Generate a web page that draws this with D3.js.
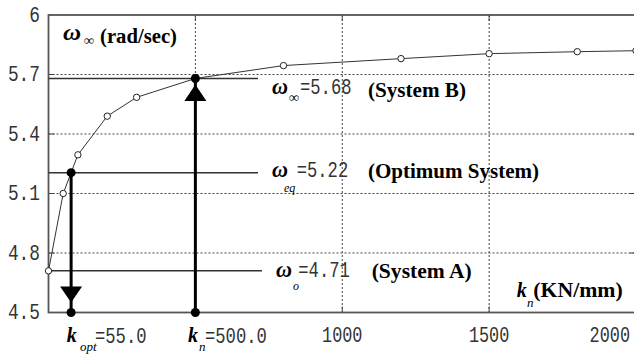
<!DOCTYPE html>
<html>
<head>
<meta charset="utf-8">
<script src="https://cdnjs.cloudflare.com/ajax/libs/d3/7.8.5/d3.min.js"></script>
<style>
  body { margin: 0; background: #fff; }
  svg { display: block; }
  .mono { font-family: "Liberation Mono", "DejaVu Sans Mono", monospace; font-size: 22px; fill: #333; }
  .serif { font-family: "Liberation Serif", "DejaVu Serif", serif; font-weight: bold; fill: #000; }
</style>
</head>
<body>
<svg id="chart" width="634" height="354"></svg>
<script>
// stiffness k (KN/mm) vs frequency (rad/sec)
const stiffness = [0, 50, 100, 200, 300, 500, 800, 1200, 1500, 1800, 2000];
const omegaInf = [4.71, 5.1, 5.295, 5.49, 5.585, 5.68, 5.745, 5.78, 5.805, 5.815, 5.82];

const yTicks = [4.5, 4.8, 5.1, 5.4, 5.7, 6];
const yTickLabels = ["4.5", "4.8", "5.1", "5.4", "5.7", "6"];
const yGrid = [4.8, 5.1, 5.4, 5.7];
const xTicks = [1000, 1500, 2000];
const xTickLabels = ["1000", "1500", "2000"];
const xGrid = [500, 1000, 1500];

// reference systems (horizontal lines)
const refOmega = [5.68, 5.205, 4.71];
const refSubs = ["∞", "eq", "o"];
const refValueText = ["=5.68", "=5.22", "=4.71"];
const refNames = ["(System B)", "(Optimum System)", "(System A)"];

// marked stiffness values (vertical arrows)
const markK = [77, 500];
const markOmega = [5.205, 5.68];
const markSubs = ["opt", "n"];
const markValueText = ["=55.0", "=500.0"];

const svg = d3.select("#chart");

const x = d3.scaleLinear().domain([0, 2000]).range([48.5, 636]);
const y = d3.scaleLinear().domain([4.5, 6]).range([312.5, 15]);

const plotL = x(0), plotR = x(2000), plotT = y(6), plotB = y(4.5);
const monoAdv = 22 * 0.6; // natural advance of Liberation Mono at 22px

// grid
svg.selectAll("line.gy").data(yGrid).enter().append("line")
  .attr("x1", plotL).attr("x2", plotR)
  .attr("y1", d => y(d)).attr("y2", d => y(d))
  .attr("stroke", "#444").attr("stroke-dasharray", "2,2");

svg.selectAll("line.gx").data(xGrid).enter().append("line")
  .attr("y1", plotT).attr("y2", plotB)
  .attr("x1", d => x(d)).attr("x2", d => x(d))
  .attr("stroke", "#444").attr("stroke-dasharray", "2,2");

// inward ticks
yGrid.forEach(function(d) {
  svg.append("line").attr("x1", plotL).attr("x2", plotL + 6).attr("y1", y(d)).attr("y2", y(d)).attr("stroke", "#444");
  svg.append("line").attr("x1", plotR).attr("x2", plotR - 6).attr("y1", y(d)).attr("y2", y(d)).attr("stroke", "#444");
});
xGrid.forEach(function(d) {
  svg.append("line").attr("y1", plotT).attr("y2", plotT + 6).attr("x1", x(d)).attr("x2", x(d)).attr("stroke", "#444");
  svg.append("line").attr("y1", plotB).attr("y2", plotB - 6).attr("x1", x(d)).attr("x2", x(d)).attr("stroke", "#444");
});

// frame
svg.append("rect")
  .attr("x", plotL).attr("y", plotT)
  .attr("width", plotR - plotL).attr("height", plotB - plotT)
  .attr("fill", "none").attr("stroke", "#555").attr("stroke-width", 1.8);

// narrow mono text, squeezed horizontally to a given advance per char
function mono(xPos, yPos, str, adv) {
  const sx = (adv || 10.3) / monoAdv;
  return svg.append("text").attr("class", "mono")
    .attr("transform", "translate(" + xPos + "," + yPos + ") scale(" + sx + ",1)")
    .text(str);
}

yTicks.forEach(function(d, i) {
  const s = yTickLabels[i];
  mono(40 - s.length * 10.7, y(d) + 6.5, s, 10.7);
});

xTicks.forEach(function(d, i) {
  const s = xTickLabels[i];
  const w = s.length * 10.1;
  const xs = Math.min(x(d) - w / 2, 630 - w);
  mono(xs, 342, s, 10.1);
});

// reference lines
const refLineEnd = [258, 258, 262];
refOmega.forEach(function(d, i) {
  svg.append("line")
    .attr("x1", plotL).attr("x2", refLineEnd[i])
    .attr("y1", y(d)).attr("y2", y(d))
    .attr("stroke", "#333").attr("stroke-width", 1.5);
});

// curve
const line = d3.line()
  .x((d, i) => x(stiffness[i]))
  .y(d => y(d));

svg.append("path")
  .datum(omegaInf)
  .attr("d", line)
  .attr("fill", "none")
  .attr("stroke", "#333")
  .attr("stroke-width", 1);

svg.selectAll("circle.pt").data(omegaInf).enter().append("circle")
  .attr("cx", (d, i) => x(stiffness[i]))
  .attr("cy", d => y(d))
  .attr("r", 3.2)
  .attr("fill", "#fff")
  .attr("stroke", "#222")
  .attr("stroke-width", 1);

// arrows
markK.forEach(function(k, i) {
  const cx = x(k);
  svg.append("line")
    .attr("x1", cx).attr("x2", cx)
    .attr("y1", y(markOmega[i])).attr("y2", plotB)
    .attr("stroke", "#000").attr("stroke-width", 3);

  let tip, base;
  if (i === 0) { tip = plotB - 10; base = tip - 16; }
  else { tip = y(markOmega[i]) + 6; base = tip + 16.5; }
  svg.append("path")
    .attr("d", "M" + cx + "," + tip + "L" + (cx - 11) + "," + base + "L" + (cx + 11) + "," + base + "Z")
    .attr("fill", "#000");

  svg.selectAll(null).data([markOmega[i], 4.5]).enter().append("circle")
    .attr("cx", cx).attr("cy", d => y(d))
    .attr("r", 4.5).attr("fill", "#000");
});

// serif helper
function serif(xPos, yPos, str, size, italic, w) {
  const t = svg.append("text").attr("class", "serif")
    .attr("x", xPos).attr("y", yPos)
    .style("font-size", size + "px")
    .style("font-style", italic ? "italic" : "normal")
    .text(str);
  if (w) t.attr("textLength", w).attr("lengthAdjust", "spacingAndGlyphs");
  return t;
}

// y axis title
serif(63, 40, "ω", 24, true, 18);
serif(84, 45, "∞", 14, false);
serif(100, 43, "(rad/sec)", 20, false, 77);

// reference labels
const refOmegaX = [272, 272, 276];
const refBase = [93.5, 177, 276.5];
const refSubX = [289, 284, 293];
const refSubBase = [102, 192, 290];
const refValX = [300, 296.7, 298.3];
const refNameX = [368, 368, 371.7];
const refNameBase = [96.5, 178, 278];
const refNameW = [98, 171, 100];
refOmega.forEach(function(d, i) {
  serif(refOmegaX[i], refBase[i], "ω", 24, true, 16);
  serif(refSubX[i], refSubBase[i], refSubs[i], i === 0 ? 14 : 12, i !== 0).style("font-weight", i === 0 ? "bold" : "normal");
  mono(refValX[i], refBase[i], refValueText[i]);
  serif(refNameX[i], refNameBase[i], refNames[i], 20, false, refNameW[i]);
});

// stiffness labels
const markKX = [66.7, 188];
const markSubX = [80, 199];
const markValX = [95, 205];
markK.forEach(function(k, i) {
  serif(markKX[i], 341.7, "k", 20, true);
  serif(markSubX[i], 351, markSubs[i], 13, true).style("font-weight", "normal");
  mono(markValX[i], 343, markValueText[i]);
});

// x axis title
serif(516.7, 296.7, "k", 20, true);
serif(527, 307, "n", 13, true).style("font-weight", "normal");
serif(533.3, 296.5, "(KN/mm)", 20, false, 89.4);
</script>
</body>
</html>
